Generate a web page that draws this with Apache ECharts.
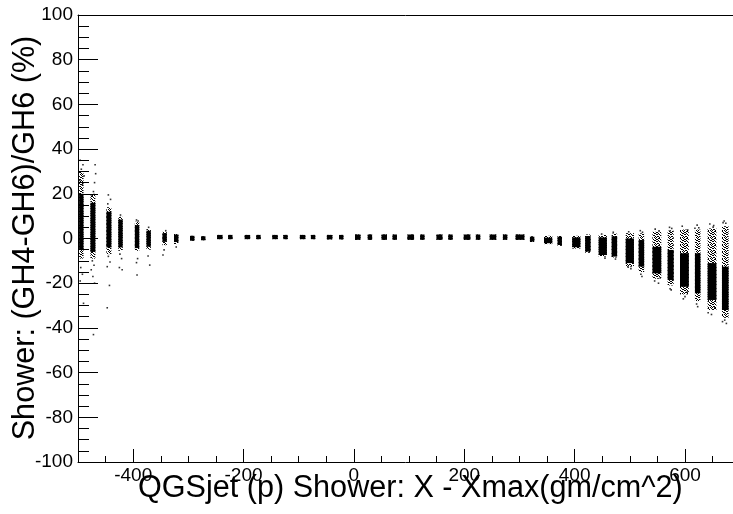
<!DOCTYPE html>
<html>
<head>
<meta charset="utf-8">
<script src="https://cdn.jsdelivr.net/npm/echarts@6/dist/echarts.min.js"></script>
<style>
  html, body { margin: 0; padding: 0; background: #fff; }
  #chart { width: 733px; height: 514px; }
</style>
</head>
<body>
<div id="chart"></div>
<script>
// Depth columns: X - Xmax (g/cm^2) of each sampled depth level
const colX = [-494, -473, -444, -423, -393, -372, -343, -322, -293, -273,
  -243, -224, -193, -173, -143, -124, -93, -74, -44, -23,
  7, 29, 55, 74, 103, 124, 155, 175, 205, 225,
  252, 274, 301, 323, 352, 373, 403, 424, 451, 472,
  500, 521, 549, 574, 599, 623, 649, 673];
// spread of X inside each column (g/cm^2)
const xSpread = [8, 9, 9, 8, 8, 8, 8, 8, 8, 8,
  10, 8, 10, 8, 10, 8, 10, 8, 10, 8,
  10, 8, 10, 8, 12, 8, 11, 8, 12, 8,
  12, 8, 16, 8, 15, 8, 15, 10, 15, 10,
  15, 10, 16, 11, 16, 10, 16, 12];
// densely populated range of the relative difference (%)
const coreHi = [20, 16, 12, 8.5, 6, 3.5, 2.4, 1.8, 1.2, 1.0,
  1.6, 1.6, 1.6, 1.6, 1.6, 1.6, 1.6, 1.6, 1.6, 1.6,
  1.8, 1.8, 1.8, 1.8, 1.8, 1.8, 1.8, 1.8, 1.8, 1.8,
  1.8, 1.8, 1.8, 0.8, 0.4, 0.8, 0.5, 1.1, 0.5, 1.0,
  0.0, -0.7, -3.7, -5.1, -6.6, -6.6, -11, -12.6];
const coreLo = [-5, -6, -4, -4, -4.3, -3.7, -1.5, -1.6, -1.0, -0.8,
  -0.3, -0.3, -0.3, -0.3, -0.3, -0.3, -0.3, -0.3, -0.4, -0.4,
  -0.6, -0.6, -0.6, -0.6, -0.6, -0.6, -0.6, -0.6, -0.6, -0.6,
  -0.6, -0.6, -0.6, -1.4, -2.1, -2.9, -3.9, -5.9, -7.4, -8.1,
  -11, -12.6, -15.6, -18.6, -21.6, -24.5, -27.5, -32];
// thinner tails of each column (%)
const tailHi = [30, 20, 14, 9.7, 7.5, 4.2, 3, 2, 1.2, 1.0,
  1.6, 1.6, 1.6, 1.6, 1.6, 1.6, 1.6, 1.6, 1.6, 1.6,
  1.8, 1.8, 1.8, 1.8, 1.8, 1.8, 1.8, 1.8, 1.8, 1.8,
  1.8, 1.8, 1.8, 1.0, 1.2, 1.5, 1.2, 1.8, 1.6, 2.2,
  2.4, 2.3, 3, 3.5, 4, 4, 4.5, 5.5];
const tailLo = [-9, -9, -7, -5.5, -5.5, -5, -3, -2.5, -1.0, -0.8,
  -0.3, -0.3, -0.3, -0.3, -0.3, -0.3, -0.3, -0.3, -0.4, -0.4,
  -0.6, -0.6, -0.6, -0.6, -0.6, -0.6, -0.6, -0.6, -0.6, -0.6,
  -0.6, -0.6, -0.6, -1.6, -2.5, -3.3, -4.5, -6.4, -8.1, -8.5,
  -12.6, -15, -18, -21, -25, -28, -32, -35.5];
// isolated showers outside the columns: [X - Xmax, difference %]
const strayPoints = [
  [-496, 35], [-491, 33], [-494, 31], [-489, 28], [-497, 26], [-492, 24],
  [-495, -13], [-492, -16], [-496, -19], [-490, -29],
  [-469, 33], [-468, 29], [-470, 25], [-472, 21], [-476, 19.5],
  [-474, -10], [-471, -12], [-476, -14], [-473, -17], [-470, -20], [-472, -43],
  [-445, 19.5], [-441, 17.5], [-446, 15.5],
  [-445, -8], [-442, -10.5], [-447, -12.6], [-443, -21], [-447, -31],
  [-423, 10.5], [-424, -7], [-421, -9], [-425, -13], [-420, -14],
  [-394, 8.3], [-391, 7.8], [-392, -9], [-394, -10.8], [-393, -16.3],
  [-372, 5], [-373, -7.8], [-370, -11.9],
  [-341, 3.5], [-344, -5.1], [-346, -7.4], [-322, -3.8],
  [449, 2], [455, -8.8], [470, 2.8], [474, -9.2],
  [498, 3], [502, -13.5], [497, -12.8],
  [519, 3.5], [523, 2.8], [520, -16], [522, -17],
  [546, 4.2], [553, 3.4], [545, -19], [552, -20], [555, -17.7],
  [572, 5], [573, 3.4], [576, 4.5], [573, -22.5], [575, -23],
  [595, 5.5], [605, 3.8], [597, -27], [600, -26], [604, -24],
  [618, 4.6], [622, 6], [625, 4.8], [621, -29.3], [623, -30.5],
  [645, 6.5], [651, 5.1], [652, 5.8], [642, -33.2], [648, -34], [654, -31],
  [669, 7.1], [671, 7.8], [674, 6.8], [668, -37.2], [672, -36.5], [675, -38]
];

// axis tick positions
const xMajor = [-400, -200, 0, 200, 400, 600];
const xMinor = [-450, -350, -300, -250, -150, -100, -50, 50, 100, 150, 250, 300, 350, 450, 500, 550, 650];
const yMinor = [];
for (let v = -95; v < 100; v += 5) if (v % 20 !== 0) yMinor.push(v);

const columns = colX.map((x, i) => [x, coreHi[i], coreLo[i], tailHi[i], tailLo[i], xSpread[i]]);

const FONT = 'Liberation Sans, Arial, Helvetica, sans-serif';
const X_MIN = -500, X_MAX = 687;

// small speckle tile used to fill the sparse tails of the columns
const speckle = document.createElement('canvas');
speckle.width = 7; speckle.height = 7;
(function () {
  const g = speckle.getContext('2d');
  g.fillStyle = '#000';
  const dots = [[0, 0], [1, 0], [4, 0], [2, 1], [5, 1], [6, 1], [0, 2], [3, 2], [4, 2],
    [1, 3], [5, 3], [6, 3], [2, 4], [3, 4], [0, 5], [4, 5], [6, 5], [1, 6], [3, 6], [5, 6]];
  dots.forEach(d => g.fillRect(d[0], d[1], 1, 1));
})();

const chart = echarts.init(document.getElementById('chart'), null, { renderer: 'canvas' });

function renderColumn(params, api) {
  const x = api.value(0), half = api.value(5) / 2;
  const tA = api.coord([x - half, api.value(3)]);
  const tB = api.coord([x + half, api.value(4)]);
  const cA = api.coord([x - half, api.value(1)]);
  const cB = api.coord([x + half, api.value(2)]);
  return {
    type: 'group',
    children: [
      { type: 'rect', shape: { x: tA[0], y: tA[1], width: tB[0] - tA[0], height: Math.max(tB[1] - tA[1], 1) },
        style: { fill: { image: speckle, repeat: 'repeat' } } },
      { type: 'rect', shape: { x: cA[0], y: cA[1], width: cB[0] - cA[0], height: Math.max(cB[1] - cA[1], 2) },
        style: { fill: '#000' } }
    ]
  };
}

chart.setOption({
  backgroundColor: '#fff',
  animation: false,
  grid: { left: 78, right: 0, top: 15, bottom: 52, show: false },
  xAxis: [
    { type: 'value', min: X_MIN, max: X_MAX, position: 'bottom',
      splitLine: { show: false },
      axisLine: { show: true, onZero: false, lineStyle: { color: '#000', width: 1 } },
      axisTick: { show: true, inside: true, length: 13, customValues: xMajor, lineStyle: { color: '#000' } },
      axisLabel: { show: true, customValues: xMajor, color: '#000', fontSize: 19, fontFamily: FONT, margin: 4 } },
    { type: 'value', min: X_MIN, max: X_MAX, position: 'bottom',
      splitLine: { show: false },
      axisLine: { show: false, onZero: false },
      axisTick: { show: true, inside: true, length: 6, customValues: xMinor, lineStyle: { color: '#000' } },
      axisLabel: { show: false } },
    // top edge of the frame
    { type: 'value', min: X_MIN, max: X_MAX, position: 'top',
      splitLine: { show: false },
      axisLine: { show: true, onZero: false, lineStyle: { color: '#000', width: 1 } },
      axisTick: { show: false }, axisLabel: { show: false } }
  ],
  yAxis: [
    { type: 'value', min: -100, max: 100, interval: 20, position: 'left',
      splitLine: { show: false },
      axisLine: { show: true, onZero: false, lineStyle: { color: '#000', width: 1 } },
      axisTick: { show: true, inside: true, length: 20, lineStyle: { color: '#000' } },
      axisLabel: { color: '#000', fontSize: 19, fontFamily: FONT, margin: 5 } },
    { type: 'value', min: -100, max: 100, position: 'left',
      splitLine: { show: false },
      axisLine: { show: false, onZero: false },
      axisTick: { show: true, inside: true, length: 11, customValues: yMinor, lineStyle: { color: '#000' } },
      axisLabel: { show: false } }
  ],
  series: [
    { type: 'custom', xAxisIndex: 0, yAxisIndex: 0, clip: true, renderItem: renderColumn,
      encode: { x: [0, 5], y: [1, 2, 3, 4] }, data: columns },
    { type: 'scatter', xAxisIndex: 0, yAxisIndex: 0, symbol: 'rect', symbolSize: 1.6,
      itemStyle: { color: '#000' }, data: strayPoints }
  ],
  graphic: [
    { type: 'text', left: 138, top: 473,
      style: { text: 'QGSjet (p) Shower: X - Xmax(gm/cm^2)', fontSize: 30.6, fontFamily: FONT, fill: '#000' } },
    { type: 'text', x: 26, y: 238, rotation: Math.PI / 2,
      style: { text: 'Shower: (GH4-GH6)/GH6 (%)', fontSize: 30.6, fontFamily: FONT, fill: '#000',
        align: 'center', verticalAlign: 'middle' } }
  ]
});
</script>
</body>
</html>
